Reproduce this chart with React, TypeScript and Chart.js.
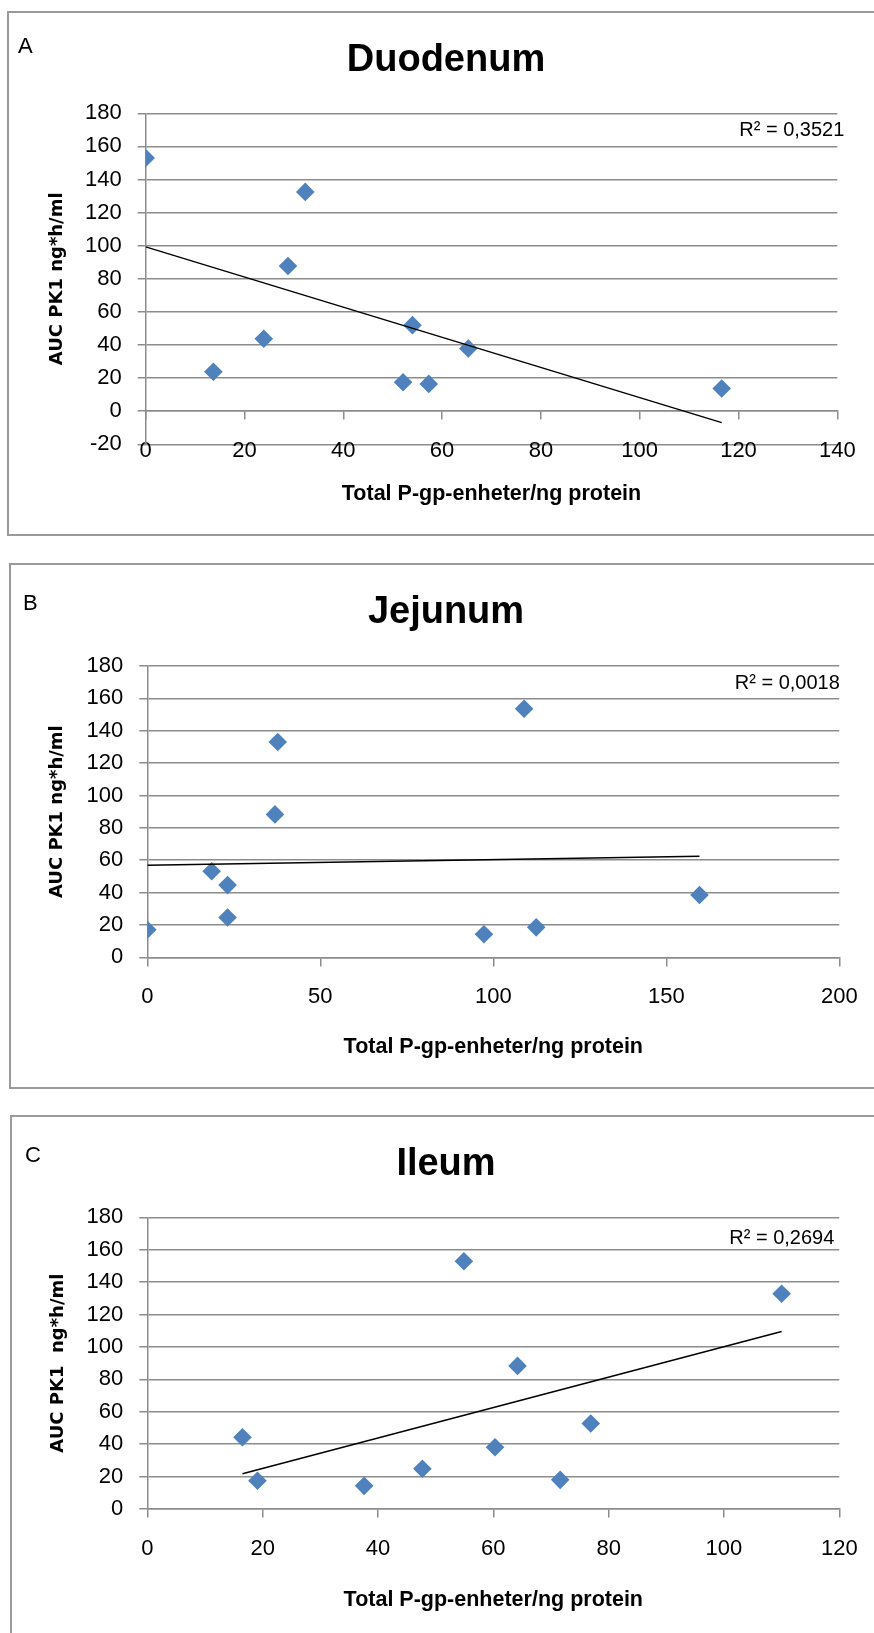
import React, { useEffect, useRef } from "react";
import { Chart, registerables } from "chart.js";

Chart.register(...registerables);

// ---------- Data ----------
const duodenumX = [0, 32.3, 28.8, 23.9, 13.7, 54.0, 52.1, 57.3, 65.3, 116.6];
const duodenumY = [153, 132.5, 87.7, 43.8, 23.8, 52.0, 17.5, 16.5, 37.9, 13.7];
const duodenumTrendX = [0, 116.6];
const duodenumTrendY = [99.3, -6.9];
const duodenumXTicks = [0, 20, 40, 60, 80, 100, 120, 140];
const duodenumYTicks = [-20, 0, 20, 40, 60, 80, 100, 120, 140, 160, 180];

const jejunumX = [0, 18.6, 23.2, 23.2, 37.7, 36.9, 108.9, 97.3, 112.4, 159.6];
const jejunumY = [17.0, 53.2, 44.6, 24.6, 133.0, 88.3, 153.6, 14.2, 18.5, 38.5];
const jejunumTrendX = [0, 159.6];
const jejunumTrendY = [56.9, 62.5];
const jejunumXTicks = [0, 50, 100, 150, 200];
const jejunumYTicks = [0, 20, 40, 60, 80, 100, 120, 140, 160, 180];

const ileumX = [16.5, 19.1, 37.6, 47.7, 54.9, 60.3, 64.2, 71.6, 76.9, 110.0];
const ileumY = [44.3, 17.4, 14.3, 24.8, 152.9, 38.1, 88.3, 18.0, 52.8, 132.8];
const ileumTrendX = [16.5, 110.0];
const ileumTrendY = [21.7, 109.5];
const ileumXTicks = [0, 20, 40, 60, 80, 100, 120];
const ileumYTicks = [0, 20, 40, 60, 80, 100, 120, 140, 160, 180];

const panelTitles = ["Duodenum", "Jejunum", "Ileum"];
const panelLetters = ["A", "B", "C"];
const r2Labels = ["R\u00b2 = 0,3521", "R\u00b2 = 0,0018", "R\u00b2 = 0,2694"];
const xAxisTitle = "Total P-gp-enheter/ng protein";
const yAxisTitles = ["AUC PK1 ng*h/ml", "AUC PK1 ng*h/ml", "AUC PK1  ng*h/ml"];

// ---------- Styles ----------
const GRID = "#8c8c8c";
const POINT = "#4f81bd";
const SANS = "'Liberation Sans', Arial, sans-serif";

type PanelCfg = {
  idx: number;
  xs: number[];
  ys: number[];
  tx: number[];
  ty: number[];
  xTicks: number[];
  yTicks: number[];
  canvasTop: number;
  canvasH: number;
  padLeft: number;
  padRight: number;
  padBottom: number;
  titlePadTop: number;
  titlePadBottom: number;
  yAxisWidth: number;
  yTitlePad: number;
  xAxisHeight: number;
  r2dx: number;
  r2y: number;
  letterX: number;
  letterY: number;
};

const panels: PanelCfg[] = [
  {
    idx: 0, xs: duodenumX, ys: duodenumY, tx: duodenumTrendX, ty: duodenumTrendY,
    xTicks: duodenumXTicks, yTicks: duodenumYTicks,
    canvasTop: 0, canvasH: 550, padLeft: 54.7, padRight: 36.7, padBottom: 105.7,
    titlePadTop: 37.4, titlePadBottom: 30.3, yAxisWidth: 91, yTitlePad: -8.5,
    xAxisHeight: 95.6, r2dx: 7, r2y: 169.5, letterX: 18, letterY: 47,
  },
  {
    idx: 1, xs: jejunumX, ys: jejunumY, tx: jejunumTrendX, ty: jejunumTrendY,
    xTicks: jejunumXTicks, yTicks: jejunumYTicks,
    canvasTop: 550, canvasH: 550, padLeft: 52.7, padRight: 34.7, padBottom: 142.7,
    titlePadTop: 39.7, titlePadBottom: 30.7, yAxisWidth: 94.6, yTitlePad: -6.5,
    xAxisHeight: 102.3, r2dx: 0.5, r2y: 169.2, letterX: 23, letterY: 53.5,
  },
  {
    idx: 2, xs: ileumX, ys: ileumY, tx: ileumTrendX, ty: ileumTrendY,
    xTicks: ileumXTicks, yTicks: ileumYTicks,
    canvasTop: 1100, canvasH: 533, padLeft: 52.7, padRight: 34.7, padBottom: 124,
    titlePadTop: 41.4, titlePadBottom: 30.3, yAxisWidth: 94.6, yTitlePad: -5.5,
    xAxisHeight: 103.9, r2dx: -5, r2y: 166.7, letterX: 25, letterY: 56,
  },
];

function PanelChart({ cfg }: { cfg: PanelCfg }) {
  const ref = useRef<HTMLCanvasElement>(null);

  useEffect(() => {
    const canvas = ref.current;
    if (!canvas) return;

    const textPlugin = {
      id: "panelText",
      afterDraw(chart: any) {
        const ctx = chart.ctx;
        ctx.save();
        ctx.fillStyle = "#000";
        ctx.textBaseline = "middle";
        ctx.textAlign = "left";
        ctx.font = `22px ${SANS}`;
        ctx.fillText(panelLetters[cfg.idx], cfg.letterX, cfg.letterY);
        ctx.textAlign = "right";
        ctx.font = `20px ${SANS}`;
        const yPix = chart.scales.y.getPixelForValue(cfg.r2y);
        ctx.fillText(r2Labels[cfg.idx], chart.chartArea.right + cfg.r2dx, yPix);
        ctx.restore();
      },
    };

    const xMin = cfg.xTicks[0];
    const xMax = cfg.xTicks[cfg.xTicks.length - 1];
    const yMin = cfg.yTicks[0];
    const yMax = cfg.yTicks[cfg.yTicks.length - 1];

    const chart = new Chart(canvas, {
      type: "scatter",
      data: {
        datasets: [
          {
            label: "Trend",
            data: cfg.tx.map((x, i) => ({ x, y: cfg.ty[i] })),
            showLine: true,
            pointRadius: 0,
            borderColor: "#000",
            borderWidth: 1.5,
            fill: false,
            order: 0,
          } as any,
          {
            label: panelTitles[cfg.idx],
            data: cfg.xs.map((x, i) => ({ x, y: cfg.ys[i] })),
            pointStyle: "rectRot",
            pointRadius: 9.3,
            backgroundColor: POINT,
            borderColor: POINT,
            borderWidth: 0,
            order: 1,
          } as any,
        ],
      },
      options: {
        responsive: false,
        animation: false,
        events: [],
        layout: {
          padding: { left: cfg.padLeft, right: cfg.padRight, top: 0, bottom: cfg.padBottom },
        },
        plugins: {
          legend: { display: false },
          tooltip: { enabled: false },
          title: {
            display: true,
            text: panelTitles[cfg.idx],
            color: "#000",
            font: { family: SANS, size: 38, weight: "bold" },
            padding: { top: cfg.titlePadTop, bottom: cfg.titlePadBottom },
          },
        },
        scales: {
          x: {
            type: "linear",
            axis: "x",
            position: { y: 0 },
            min: xMin,
            max: xMax,
            afterBuildTicks: (s: any) => {
              s.ticks = cfg.xTicks.map((v) => ({ value: v }));
            },
            afterFit: (s: any) => {
              s.height = cfg.xAxisHeight;
              s.paddingLeft = 0;
              s.paddingRight = 0;
            },
            grid: {
              drawOnChartArea: false,
              drawTicks: true,
              tickLength: 8,
              color: GRID,
              lineWidth: 1.5,
            },
            border: { display: true, color: GRID, width: 1.5 },
            ticks: {
              font: { family: SANS, size: 22 },
              color: "#000",
              padding: 18.8,
              autoSkip: false,
              maxRotation: 0,
              callback: (v: any) => String(v),
            },
            title: {
              display: true,
              text: xAxisTitle,
              color: "#000",
              font: { family: SANS, size: 21.5, weight: "bold" },
              padding: 0,
            },
          } as any,
          y: {
            type: "linear",
            position: "left",
            min: yMin,
            max: yMax,
            afterBuildTicks: (s: any) => {
              s.ticks = cfg.yTicks.map((v) => ({ value: v }));
            },
            afterFit: (s: any) => {
              s.width = cfg.yAxisWidth;
              s.paddingTop = 0;
              s.paddingBottom = 0;
            },
            grid: {
              drawTicks: true,
              tickLength: 8,
              color: GRID,
              lineWidth: 1.5,
            },
            border: { display: true, color: GRID, width: 1.5 },
            ticks: {
              font: { family: SANS, size: 22 },
              color: "#000",
              padding: 16,
              autoSkip: false,
              callback: (v: any) => String(v),
            },
            title: {
              display: true,
              text: yAxisTitles[cfg.idx],
              color: "#000",
              font: { family: "'DejaVu Sans', sans-serif", size: 18, weight: "bold" },
              padding: { top: cfg.yTitlePad, bottom: 0 },
            },
          } as any,
        },
      },
      plugins: [textPlugin],
    });

    return () => chart.destroy();
  }, [cfg]);

  return (
    <canvas
      ref={ref}
      width={874}
      height={cfg.canvasH}
      style={{ position: "absolute", left: 0, top: cfg.canvasTop, display: "block" }}
    />
  );
}

const boxStyle = (left: number, top: number): React.CSSProperties => ({
  position: "absolute",
  left,
  top,
  width: 920,
  height: 521,
  border: "2px solid #9a9a9a",
  boxSizing: "content-box",
});

export default function App() {
  return (
    <div
      style={{
        position: "fixed",
        left: 0,
        top: 0,
        width: 874,
        height: 1633,
        overflow: "hidden",
        background: "#fff",
      }}
    >
      <div style={boxStyle(7, 11)} />
      <div style={{ ...boxStyle(9, 563), height: 522 }} />
      <div style={{ ...boxStyle(10, 1115), height: 522 }} />
      {panels.map((p) => (
        <PanelChart key={p.idx} cfg={p} />
      ))}
    </div>
  );
}
